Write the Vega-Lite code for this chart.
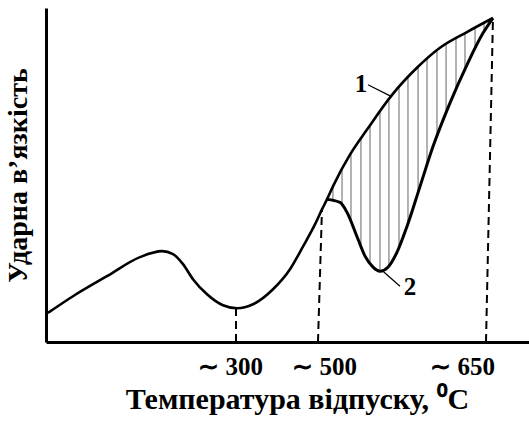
{
  "$schema": "https://vega.github.io/schema/vega-lite/v6.json",
  "width": 483,
  "height": 334,
  "autosize": {"type": "none"},
  "padding": {"left": 46, "top": 8, "right": 0, "bottom": 83},
  "background": "white",
  "config": {"view": {"stroke": null}, "font": "Liberation Serif"},
  "encoding": {
    "x": {
      "field": "t",
      "type": "quantitative",
      "scale": {"type": "linear", "domain": [100, 300, 500, 650, 700], "range": [0, 190, 274, 440, 483], "nice": false, "zero": false},
      "axis": {
        "title": "Температура відпуску, ⁰C",
        "values": [300, 500, 650],
        "labelExpr": "'∼ ' + datum.value",
        "ticks": false,
        "grid": false,
        "domainColor": "black",
        "domainWidth": 3,
        "labelFont": "Liberation Serif",
        "labelFontSize": 25,
        "labelFontWeight": "bold",
        "labelColor": "black",
        "labelPadding": 12,
        "labelOffset": {"condition": [{"test": "datum.value === 650", "value": -24}, {"test": "datum.value === 500", "value": 4}], "value": -6},
        "labelOverlap": false,
        "labelFlush": false,
        "titleFont": "Liberation Serif",
        "titleFontSize": 30,
        "titleFontWeight": "bold",
        "titleColor": "black",
        "titlePadding": 5,
        "titleX": 251
      }
    },
    "y": {
      "field": "v",
      "type": "quantitative",
      "scale": {"domain": [0, 100], "nice": false, "zero": true},
      "axis": {
        "title": "Ударна в’язкість",
        "labels": false,
        "ticks": false,
        "grid": false,
        "domainColor": "black",
        "domainWidth": 3,
        "titleFont": "Liberation Serif",
        "titleFontSize": 28,
        "titleFontWeight": "bold",
        "titleColor": "black",
        "titlePadding": 14
      }
    }
  },
  "layer": [
    {
      "data": {"values": [
        {"t": 511.7, "v": 46.6, "v2": 41.9},
        {"t": 519.9, "v": 51.6, "v2": 40.9},
        {"t": 528.0, "v": 56.6, "v2": 35.9},
        {"t": 537.0, "v": 60.9, "v2": 28.7},
        {"t": 545.2, "v": 64.8, "v2": 23.6},
        {"t": 554.2, "v": 69.0, "v2": 21.2},
        {"t": 562.3, "v": 72.8, "v2": 22.9},
        {"t": 571.4, "v": 76.3, "v2": 28.4},
        {"t": 579.5, "v": 79.2, "v2": 35.6},
        {"t": 588.6, "v": 82.4, "v2": 44.7},
        {"t": 596.7, "v": 84.7, "v2": 53.0},
        {"t": 605.7, "v": 87.3, "v2": 61.6},
        {"t": 613.9, "v": 89.1, "v2": 68.6},
        {"t": 622.9, "v": 90.9, "v2": 75.6},
        {"t": 631.0, "v": 92.5, "v2": 81.6},
        {"t": 640.1, "v": 94.1, "v2": 87.8},
        {"t": 648.2, "v": 95.6, "v2": 93.0}
      ]},
      "mark": {"type": "rule", "color": "#555555", "strokeWidth": 0.9},
      "encoding": {"y2": {"field": "v2"}}
    },
    {
      "data": {"values": [
        {"t": 300, "t2": 300, "v": 0, "v2": 10.1},
        {"t": 495.2, "t2": 501.8, "v": 0, "v2": 40.0},
        {"t": 650, "t2": 658.1, "v": 0, "v2": 97.0}
      ]},
      "mark": {"type": "rule", "color": "black", "strokeWidth": 2, "strokeDash": [8, 5]},
      "encoding": {"x2": {"field": "t2"}, "y2": {"field": "v2"}}
    },
    {
      "data": {"values": [
        {"t": 102, "v": 8.7},
        {"t": 128.4, "v": 13.7},
        {"t": 164.2, "v": 19.7},
        {"t": 198.9, "v": 25.4},
        {"t": 222.1, "v": 27.2},
        {"t": 233.7, "v": 26.3},
        {"t": 244.2, "v": 23.3},
        {"t": 254.7, "v": 18.8},
        {"t": 269.5, "v": 14.3},
        {"t": 286.3, "v": 11.0},
        {"t": 302.4, "v": 10.1},
        {"t": 340.5, "v": 11.3},
        {"t": 388.1, "v": 15.8},
        {"t": 428.6, "v": 21.8},
        {"t": 460, "v": 28.7},
        {"t": 488, "v": 35.2},
        {"t": 501.8, "v": 39.7},
        {"t": 506.3, "v": 42.7},
        {"t": 511.7, "v": 46.6},
        {"t": 527.1, "v": 56.1},
        {"t": 542.5, "v": 63.6},
        {"t": 565.1, "v": 74.0},
        {"t": 587.6, "v": 82.1},
        {"t": 608.4, "v": 88.1},
        {"t": 632.8, "v": 92.8},
        {"t": 658.1, "v": 97.0}
      ]},
      "mark": {"type": "line", "color": "black", "strokeWidth": 2.6, "interpolate": "monotone"}
    },
    {
      "data": {"values": [
        {"t": 506.3, "v": 42.7},
        {"t": 518.1, "v": 41.8},
        {"t": 524.4, "v": 38.8},
        {"t": 533.4, "v": 31.6},
        {"t": 540.7, "v": 25.7},
        {"t": 547.9, "v": 22.4},
        {"t": 554.2, "v": 21.2},
        {"t": 561.4, "v": 22.4},
        {"t": 569.6, "v": 26.9},
        {"t": 578.6, "v": 34.6},
        {"t": 590.4, "v": 46.6},
        {"t": 602.1, "v": 58.5},
        {"t": 617.5, "v": 71.6},
        {"t": 632.8, "v": 83.0},
        {"t": 647.3, "v": 92.5},
        {"t": 658.1, "v": 97.0}
      ]},
      "mark": {"type": "line", "color": "black", "strokeWidth": 3, "interpolate": "monotone"}
    },
    {
      "data": {"values": [
        {"t": 543.4, "v": 77.0, "t2": 565.1, "v2": 73.4},
        {"t": 556.9, "v": 21.2, "t2": 572.3, "v2": 16.7}
      ]},
      "mark": {"type": "rule", "color": "black", "strokeWidth": 1.2},
      "encoding": {"x2": {"field": "t2"}, "y2": {"field": "v2"}}
    },
    {
      "data": {"values": [
        {"t": 537.0, "v": 77.3, "label": "1"},
        {"t": 581.3, "v": 16.4, "label": "2"}
      ]},
      "mark": {"type": "text", "font": "Liberation Serif", "fontSize": 25, "fontWeight": "bold", "color": "black", "align": "center", "baseline": "middle"},
      "encoding": {"text": {"field": "label"}}
    }
  ]
}
